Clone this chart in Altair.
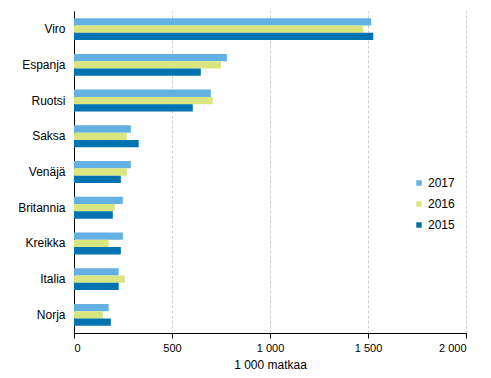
import altair as alt
import pandas as pd

countries = ["Viro", "Espanja", "Ruotsi", "Saksa", "Venäjä", "Britannia", "Kreikka", "Italia", "Norja"]
years = ["2017", "2016", "2015"]
v2017 = [1516, 780, 698, 290, 290, 249, 249, 228, 177]
v2016 = [1475, 750, 708, 269, 269, 208, 177, 259, 147]
v2015 = [1527, 647, 606, 330, 239, 198, 239, 228, 188]
colors = ["#63b0e3", "#d9e680", "#0073b0"]

rows = []
for i, c in enumerate(countries):
    for y, vals in zip(years, [v2017, v2016, v2015]):
        rows.append({"maa": c, "vuosi": y, "arvo": vals[i]})
df = pd.DataFrame(rows)

font = "Liberation Sans"

chart = alt.Chart(df).mark_bar().encode(
    y=alt.Y("maa:N", sort=countries, title=None,
            scale=alt.Scale(paddingInner=0.39, paddingOuter=0.2),
            axis=alt.Axis(ticks=False, labelPadding=9, domainColor="black",
                          labelFontSize=12, labelColor="black", labelFont=font)),
    yOffset=alt.YOffset("vuosi:N", sort=years),
    x=alt.X("arvo:Q", title="1 000 matkaa",
            scale=alt.Scale(domain=[0, 2000], nice=False),
            axis=alt.Axis(values=[0, 500, 1000, 1500, 2000],
                          labelExpr="replace(format(datum.value, ','), ',', ' ')",
                          grid=True, gridDash=[3, 2], gridColor="#cccccc",
                          domainColor="black", tickColor="black", tickSize=5,
                          labelFontSize=11, labelColor="black", labelFont=font,
                          titleFontSize=12, titleFontWeight="normal", titleColor="black",
                          titleFont=font, titlePadding=6, labelPadding=4)),
    color=alt.Color("vuosi:N", sort=years,
                    scale=alt.Scale(domain=years, range=colors),
                    legend=alt.Legend(title=None, orient="none", legendX=339, legendY=166,
                                      symbolType="square", symbolSize=30,
                                      symbolStrokeWidth=0, rowPadding=9,
                                      labelFontSize=12, labelColor="black", labelFont=font,
                                      labelOffset=3)),
).properties(
    width=392, height=322,
    autosize=alt.AutoSizeParams(type="none"),
    padding={"left": 66, "top": 3, "right": 17, "bottom": 37},
).configure_view(stroke=None)

chart.save("out.html", embed_options={"renderer": "svg", "actions": False})
